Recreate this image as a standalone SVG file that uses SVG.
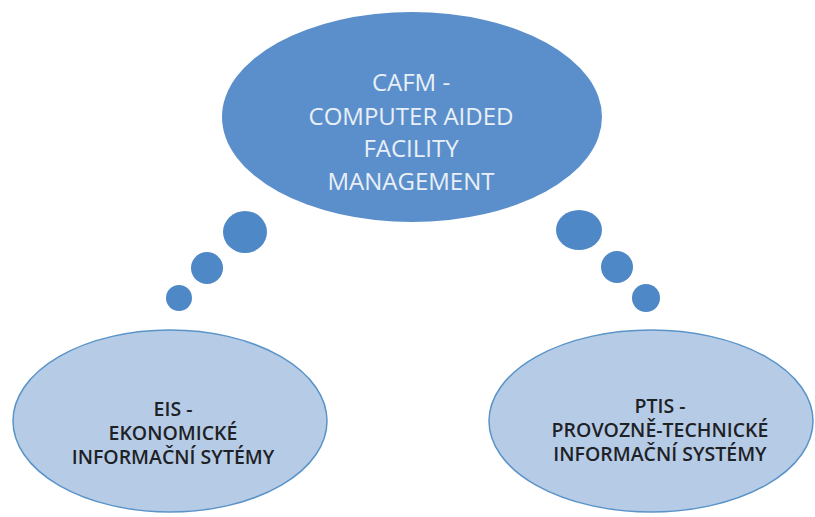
<svg xmlns="http://www.w3.org/2000/svg" width="815" height="517" viewBox="0 0 815 517">
<style>
.main{fill:#5b8fcb}
.bub{fill:#4f88c6}
.sub{fill:#b6cce6;stroke:#5a93c8;stroke-width:1.5}
.tw{font-family:"Open Sans","Liberation Sans",sans-serif;font-size:24px;fill:#e9eff7;text-anchor:middle}
.td{font-family:"Open Sans","Liberation Sans",sans-serif;font-size:19.5px;fill:#1e2226;text-anchor:middle;font-weight:600}
</style>
<rect width="815" height="517" fill="#ffffff"/>
<g id="connectors">
<ellipse class="bub" cx="245" cy="232" rx="22" ry="21"/>
<circle class="bub" cx="207" cy="268" r="16"/>
<circle class="bub" cx="179" cy="298" r="13"/>
<ellipse class="bub" cx="579" cy="230" rx="23" ry="20"/>
<circle class="bub" cx="617" cy="267" r="16"/>
<circle class="bub" cx="646" cy="298" r="14"/>
</g>
<g id="cafm">
<ellipse class="main" cx="412" cy="117" rx="190" ry="105"/>
<text class="tw" x="411" y="91">CAFM -</text>
<text class="tw" x="411" y="125">COMPUTER AIDED</text>
<text class="tw" x="411" y="157">FACILITY</text>
<text class="tw" x="411" y="190">MANAGEMENT</text>
</g>
<g id="eis">
<ellipse class="sub" cx="170" cy="421" rx="157" ry="91"/>
<text class="td" x="173" y="416">EIS -</text>
<text class="td" x="173" y="440">EKONOMICKÉ</text>
<text class="td" x="173" y="464">INFORMAČNÍ SYTÉMY</text>
</g>
<g id="ptis">
<ellipse class="sub" cx="651" cy="421" rx="162" ry="91"/>
<text class="td" x="660" y="413">PTIS -</text>
<text class="td" x="660" y="437">PROVOZNĚ-TECHNICKÉ</text>
<text class="td" x="660" y="461">INFORMAČNÍ SYSTÉMY</text>
</g>
</svg>
